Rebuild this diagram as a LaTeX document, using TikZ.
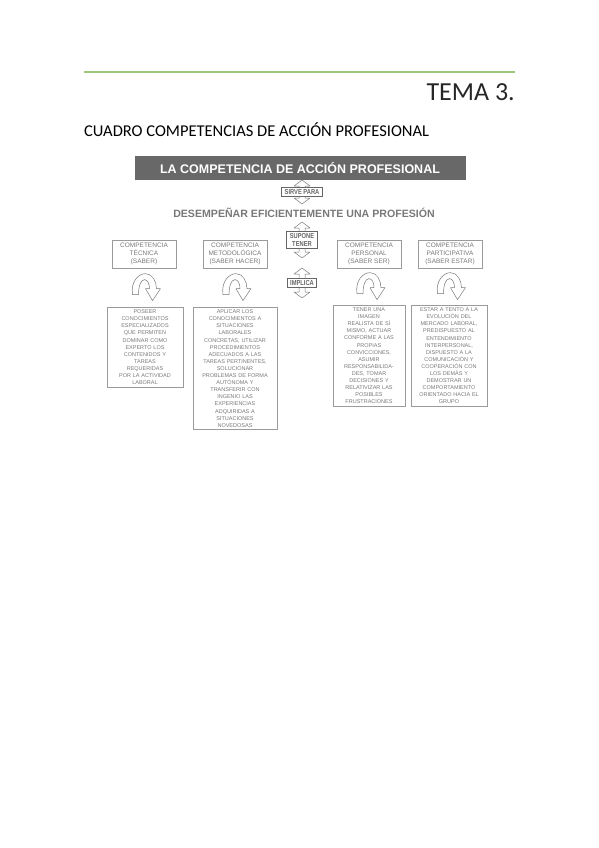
\documentclass[tikz,border=0pt]{standalone}
\usepackage{fontspec}
\setmainfont{Liberation Sans}
\newfontfamily\pagefont{Carlito}
\newfontfamily\narrowfont[FakeStretch=0.8]{Liberation Sans}
\usetikzlibrary{calc,backgrounds}
\definecolor{rulegreen}{RGB}{158,199,128}
\definecolor{inkgray}{RGB}{120,120,120}
\definecolor{boxgray}{RGB}{155,155,155}
\definecolor{bannergray}{RGB}{104,104,104}
\tikzset{
  compbox/.style={draw=boxgray,line width=0.6pt,text=inkgray,align=center,font=\fontsize{6.5}{8}\selectfont,minimum width=64pt,minimum height=28pt,inner sep=1pt},
  textbox/.style={draw=boxgray,line width=0.6pt,text=inkgray,align=center,font=\fontsize{5.5}{7.1}\selectfont,anchor=north,inner xsep=3pt,inner ysep=2.5pt},
  tagbox/.style={draw=black!60,line width=0.7pt,fill=white,text=black!60,align=center,font=\narrowfont\bfseries\fontsize{7.2}{7.6}\selectfont,inner xsep=3pt,inner ysep=2pt},
  hollow/.style={draw=inkgray,fill=white,line width=0.5pt,line join=round},
  pics/updown/.style={code={\draw[hollow] (0,-#1) -- (8,-#1+6) -- (3,-#1+6) -- (3,#1-6) -- (8,#1-6) -- (0,#1) -- (-8,#1-6) -- (-3,#1-6) -- (-3,-#1+6) -- (-8,-#1+6) -- cycle;}},
  pics/turn/.style={code={\draw[hollow] (-12,7) .. controls (-14,-6) and (-6,-14) .. (1,-14) .. controls (8,-14) and (12,-6) .. (12,1) -- (16,1) -- (8,13) -- (1,1) -- (5,1) .. controls (5,-4) and (3,-8) .. (0,-8) .. controls (-4,-8) and (-6,-1) .. (-6,7) -- cycle;}},
}
\begin{document}
\begin{tikzpicture}[x=1pt,y=-1pt]
\useasboundingbox (0,0) rectangle (599,848);
\draw[rulegreen,line width=1.3pt] (84,72) -- (515,72);
\node[anchor=base east,inner sep=0pt,font=\pagefont\fontsize{26}{26}\selectfont,text=black!85] (tema) at (515,101) {TEMA 3.};
\node[anchor=base west,inner sep=0pt,font=\pagefont\fontsize{16.5}{16.5}\selectfont] (cuadro) at (84,136) {CUADRO COMPETENCIAS DE ACCIÓN PROFESIONAL};
\node[fill=bannergray,text=white,font=\bfseries\fontsize{12.5}{13}\selectfont,minimum width=331pt,minimum height=24pt] (banner) at (300,168) {LA COMPETENCIA DE ACCIÓN PROFESIONAL};
\node[tagbox] (sirve) at (302,192) {SIRVE PARA};
\node[text=inkgray,font=\bfseries\fontsize{10.6}{11}\selectfont] (goal) at (304,213) {DESEMPEÑAR EFICIENTEMENTE UNA PROFESIÓN};
\node[tagbox] (supone) at (302,240) {SUPONE\\TENER};
\node[tagbox] (implica) at (302,283) {IMPLICA};
\node[compbox] (tecnica) at (144,254) {COMPETENCIA\\TÉCNICA\\(SABER)};
\node[compbox] (metodo) at (235,254) {COMPETENCIA\\METODOLÓGICA\\(SABER HACER)};
\node[compbox] (personal) at (369,254) {COMPETENCIA\\PERSONAL\\(SABER SER)};
\node[compbox] (participa) at (450,254) {COMPETENCIA\\PARTICIPATIVA\\(SABER ESTAR)};
\node[textbox,text width=70pt] (saber) at (145,307) {POSEER\\CONOCIMIENTOS\\ESPECIALIZADOS\\QUE PERMITEN\\DOMINAR COMO\\EXPERTO LOS\\CONTENIDOS Y\\TAREAS\\REQUERIDAS\\POR LA ACTIVIDAD\\LABORAL};
\node[textbox,text width=78pt] (hacer) at (235,307) {APLICAR LOS\\CONOCIMIENTOS A\\SITUACIONES\\LABORALES\\CONCRETAS, UTILIZAR\\PROCEDIMIENTOS\\ADECUADOS A LAS\\TAREAS PERTINENTES,\\SOLUCIONAR\\PROBLEMAS DE FORMA\\AUTÓNOMA Y\\TRANSFERIR CON\\INGENIO LAS\\EXPERIENCIAS\\ADQUIRIDAS A\\SITUACIONES\\NOVEDOSAS};
\node[textbox,text width=66pt] (ser) at (369,305) {TENER UNA\\IMAGEN\\REALISTA DE SÍ\\MISMO, ACTUAR\\CONFORME A LAS\\PROPIAS\\CONVICCIONES,\\ASUMIR\\RESPONSABILIDA-\\DES, TOMAR\\DECISIONES Y\\RELATIVIZAR LAS\\POSIBLES\\FRUSTRACIONES};
\node[textbox,text width=70pt] (estar) at (449,305) {ESTAR A TENTO A LA\\EVOLUCIÓN DEL\\MERCADO LABORAL,\\PREDISPUESTO AL\\ENTENDIMIENTO\\INTERPERSONAL,\\DISPUESTO A LA\\COMUNICACIÓN Y\\COOPERACIÓN CON\\LOS DEMÁS Y\\DEMOSTRAR UN\\COMPORTAMIENTO\\ORIENTADO HACIA EL\\GRUPO};
\begin{scope}[on background layer]
\pic at (sirve) {updown=12};
\pic at (supone) {updown=18};
\pic at (implica) {updown=15};
\end{scope}
\foreach \a/\b in {tecnica/saber,metodo/hacer,personal/ser,participa/estar}
  \pic at ($(\a.south)!0.5!(\b.north)$) {turn};
\end{tikzpicture}
\end{document}
